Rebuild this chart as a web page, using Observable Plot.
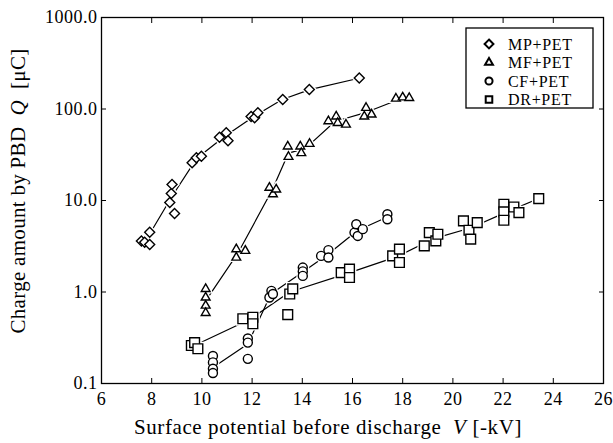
<!DOCTYPE html>
<html>
<head>
<meta charset="utf-8">
<script src="https://cdn.jsdelivr.net/npm/d3@7"></script>
<script src="https://cdn.jsdelivr.net/npm/@observablehq/plot@0.6"></script>
<style>
  body { margin: 0; background: #fff; }
  svg { display: block; }
</style>
</head>
<body>
<div id="chart"></div>
<script>
// Surface potential V [-kV] and PBD charge Q [µC] for each electrode / film pair
const seriesNames = ["MP+PET", "MF+PET", "CF+PET", "DR+PET"];

const mpV = [7.59, 7.72, 7.92, 7.92, 8.72, 8.78, 8.81, 8.91, 9.61, 9.78, 9.98, 10.70, 10.97, 11.04, 11.96, 12.10, 12.23, 13.22, 14.28, 16.27];
const mpQ = [3.6, 3.5, 4.5, 3.3, 9.5, 11.9, 15.0, 7.2, 25.8, 29.3, 30.5, 49, 55, 45, 83, 80, 91, 127, 163, 218];

const mfV = [10.15, 10.15, 10.15, 10.15, 11.37, 11.37, 11.73, 12.69, 12.83, 12.96, 13.42, 13.45, 13.92, 13.96, 14.29, 15.04, 15.35, 15.41, 15.74, 16.47, 16.54, 16.76, 17.73, 18.0, 18.26];
const mfQ = [1.08, 0.87, 0.71, 0.59, 2.94, 2.38, 2.82, 13.8, 11.7, 13.2, 39, 30, 39, 33, 41.6, 73.5, 83, 70.5, 67.6, 83, 103, 87, 130, 134, 132];

const cfV = [10.44, 10.44, 10.44, 10.44, 11.83, 11.83, 11.83, 12.69, 12.77, 12.83, 14.02, 14.02, 14.02, 14.75, 15.04, 15.04, 16.08, 16.15, 16.21, 16.41, 17.39, 17.39];
const cfQ = [0.20, 0.17, 0.145, 0.13, 0.31, 0.28, 0.186, 0.87, 1.03, 0.95, 1.85, 1.68, 1.5, 2.48, 2.87, 2.38, 4.46, 5.5, 4.1, 4.86, 7.07, 6.24];

const drV = [9.58, 9.71, 9.84, 11.63, 12.03, 12.03, 13.42, 13.5, 13.62, 15.55, 15.88, 15.88, 17.6, 17.87, 17.87, 18.86, 19.06, 19.32, 19.4, 20.42, 20.64, 20.71, 20.97, 22.03, 22.03, 22.03, 22.43, 22.63, 23.42];
const drQ = [0.26, 0.28, 0.24, 0.51, 0.53, 0.45, 0.565, 0.95, 1.08, 1.63, 1.78, 1.44, 2.48, 2.94, 2.1, 3.19, 4.46, 3.62, 4.28, 5.98, 4.73, 3.78, 5.73, 9.1, 7.5, 6.08, 8.5, 7.36, 10.5];

// Trend curves through the measurement groups
const mpLineV = [7.8, 8.8, 9.8, 10.9, 12.1, 13.2, 14.3, 16.3];
const mpLineQ = [3.8, 11, 29, 50, 84, 127, 163, 218];
const mfLineV = [10.15, 11.45, 12.8, 13.45, 13.95, 14.3, 15.3, 16.55, 18.0];
const mfLineQ = [0.8, 2.7, 13, 33, 36, 41, 73, 92, 132];
const cfLineV = [10.44, 11.83, 12.75, 14.02, 15.0, 16.2, 17.39];
const cfLineQ = [0.15, 0.27, 0.95, 1.65, 2.55, 4.7, 6.6];
const drLineV = [9.7, 11.9, 13.5, 15.8, 17.8, 19.2, 20.7, 22.2, 23.42];
const drLineQ = [0.26, 0.5, 1.0, 1.6, 2.45, 3.8, 5.0, 7.6, 10.5];

const xTicks = [6, 8, 10, 12, 14, 16, 18, 20, 22, 24, 26];
const yTicks = [0.1, 1, 10, 100, 1000];

const zip = (vs, qs) => vs.map((v, i) => ({v, q: qs[i]}));

const series = [
  {name: seriesNames[0], symbol: "diamond2", r: 4.5, pts: zip(mpV, mpQ), line: zip(mpLineV, mpLineQ)},
  {name: seriesNames[1], symbol: "triangle2", r: 4.2, pts: zip(mfV, mfQ), line: zip(mfLineV, mfLineQ)},
  {name: seriesNames[2], symbol: "circle", r: 4.5, pts: zip(cfV, cfQ), line: zip(cfLineV, cfLineQ)},
  {name: seriesNames[3], symbol: "square2", r: 6.2, pts: zip(drV, drQ), line: zip(drLineV, drLineQ)}
];

const font = "'Liberation Serif', 'Times New Roman', serif";

const marks = [
  Plot.frame({stroke: "#000", strokeWidth: 1.3}),
  Plot.axisX({ticks: xTicks, tickSize: 0, tickPadding: 9, label: null}),
  Plot.axisX({ticks: xTicks, tickSize: -5, tickFormat: () => "", label: null}),
  Plot.axisX({anchor: "top", ticks: xTicks, tickSize: -5, tickFormat: () => "", label: null}),
  Plot.axisY({ticks: yTicks, tickSize: 0, tickPadding: 4, tickFormat: d3.format(".1f"), label: null}),
  Plot.axisY({ticks: yTicks, tickSize: -5, tickFormat: () => "", label: null}),
  Plot.axisY({anchor: "right", ticks: yTicks, tickSize: -5, tickFormat: () => "", label: null})
];

for (const s of series) {
  marks.push(Plot.line(s.line, {x: "v", y: "q", stroke: "#000", strokeWidth: 1.2}));
}
for (const s of series) {
  marks.push(Plot.dot(s.pts, {x: "v", y: "q", symbol: () => s.symbol, r: s.r, fill: "white", stroke: "white", strokeWidth: 4}));
  marks.push(Plot.dot(s.pts, {x: "v", y: "q", symbol: () => s.symbol, r: s.r, fill: "white", stroke: "#000", strokeWidth: 1.4}));
}

const chart = Plot.plot({
  width: 613,
  height: 443,
  marginLeft: 101,
  marginRight: 10,
  marginTop: 17,
  marginBottom: 60,
  style: {fontFamily: font, fontSize: "18px", letterSpacing: "0.5px", background: "#fff", color: "#000"},
  x: {domain: [6, 26]},
  y: {type: "log", domain: [0.1, 1000]},
  symbol: {type: "identity"},
  marks
});

const svg = d3.select(chart);

// Axis titles with italic variable symbols
const xt = svg.append("text")
  .attr("x", 328).attr("y", 434)
  .attr("text-anchor", "middle")
  .style("font-family", font).style("font-size", "21px").style("letter-spacing", "0.6px").attr("fill", "#000");
xt.append("tspan").text("Surface potential before discharge  ");
xt.append("tspan").style("font-style", "italic").text("V");
xt.append("tspan").text(" [-kV]");

const yt = svg.append("text")
  .attr("transform", "translate(25,191) rotate(-90)")
  .attr("text-anchor", "middle")
  .style("font-family", font).style("font-size", "21px").style("letter-spacing", "0.3px").attr("fill", "#000");
yt.append("tspan").text("Charge amount by PBD  ");
yt.append("tspan").style("font-style", "italic").text("Q");
yt.append("tspan").text("  [μC]");

// Legend box
const lg = svg.append("g").attr("text-anchor", "start");
lg.append("rect").attr("x", 466).attr("y", 28).attr("width", 127).attr("height", 80)
  .attr("fill", "white").attr("stroke", "#000").attr("stroke-width", 1.3);
const legendSymbols = [d3.symbolDiamond2, d3.symbolTriangle2, d3.symbolCircle, d3.symbolSquare2];
const legendSizes = [50, 45, 40, 55];
series.forEach((s, i) => {
  const y = 44 + i * 18.5;
  lg.append("path")
    .attr("transform", `translate(489,${y})`)
    .attr("d", d3.symbol(legendSymbols[i], legendSizes[i])())
    .attr("fill", "none").attr("stroke", "#000").attr("stroke-width", 2);
  lg.append("text").attr("x", 508).attr("y", y).attr("dy", "0.35em")
    .attr("text-anchor", "start")
    .style("font-family", font).style("font-size", "16px").style("letter-spacing", "0.7px").attr("fill", "#000")
    .text(s.name);
});

document.getElementById("chart").append(chart);
</script>
</body>
</html>
